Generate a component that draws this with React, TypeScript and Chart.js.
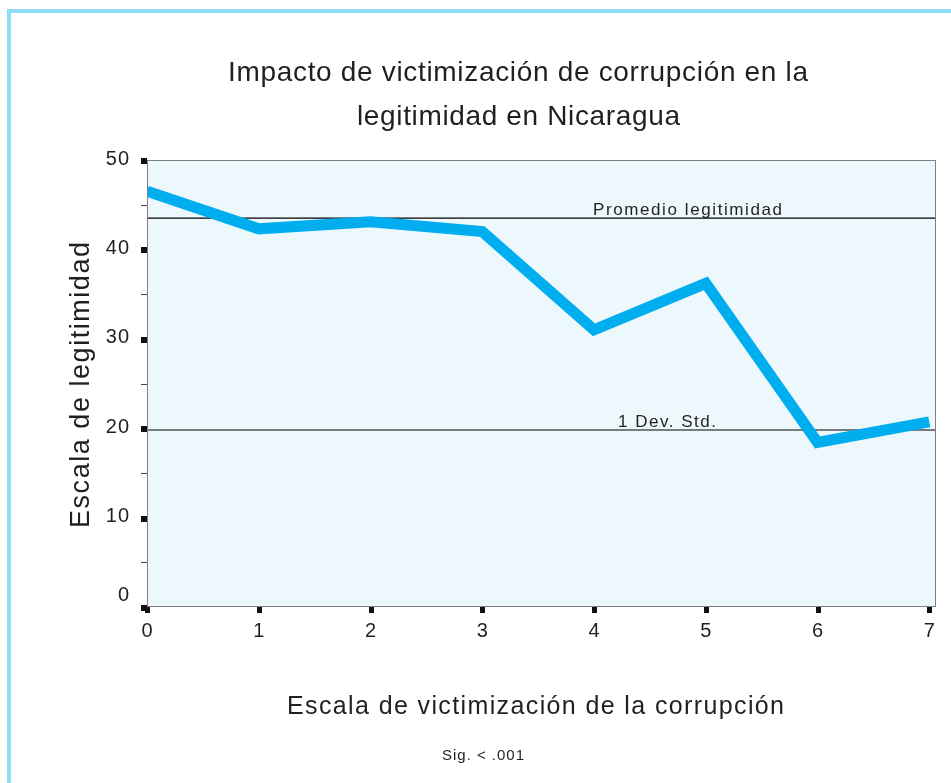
import React, { useEffect, useRef } from "react";
import { Chart, registerables } from "chart.js";

Chart.register(...registerables);

const titleLines = ["Impacto de victimización de corrupción en la", "legitimidad en Nicaragua"];
const xTitle = "Escala de victimización de la corrupción";
const yTitle = "Escala de legitimidad";
const note = "Sig. < .001";

const victimization = [0, 1, 2, 3, 4, 5, 6, 7];
const legitimacy = [46.5, 42.3, 43.1, 42.0, 31.0, 36.2, 18.4, 20.7];

const meanLabel = "Promedio legitimidad";
const meanValue = 43.5;
const sdLabel = "1 Dev. Std.";
const sdValue = 19.8;

const yMajorTicks = [0, 10, 20, 30, 40, 50];
const yMinorTicks = [5, 15, 25, 35, 45];
const xTicks = [0, 1, 2, 3, 4, 5, 6, 7];

const FONT = "'Liberation Sans', Arial, Helvetica, sans-serif";
const TEXT = "#231f20";

function spaced(ctx: CanvasRenderingContext2D, text: string, size: number, x0: number, x1: number, baseline: number) {
  ctx.font = `${size}px ${FONT}`;
  (ctx as any).letterSpacing = "0px";
  const w = ctx.measureText(text).width;
  const sp = (x1 - x0 - w) / (text.length - 1);
  (ctx as any).letterSpacing = `${sp}px`;
  ctx.textAlign = "left";
  ctx.textBaseline = "alphabetic";
  ctx.fillStyle = TEXT;
  ctx.fillText(text, x0, baseline);
  (ctx as any).letterSpacing = "0px";
}

const decor = {
  id: "decor",
  beforeDraw(chart: any) {
    const ctx = chart.ctx as CanvasRenderingContext2D;
    const { left, top, right, bottom } = chart.chartArea;
    ctx.save();
    ctx.fillStyle = "#ffffff";
    ctx.fillRect(0, 0, chart.width, chart.height);
    ctx.fillStyle = "#8fdcf7";
    ctx.fillRect(7, 9, chart.width - 7, 4);
    ctx.fillRect(7, 9, 4, chart.height - 9);
    ctx.fillStyle = "#edf8fd";
    ctx.fillRect(left, top, right - left, bottom - top);
    ctx.restore();
  },
  afterDatasetsDraw(chart: any) {
    const ctx = chart.ctx as CanvasRenderingContext2D;
    const { left, top, right, bottom } = chart.chartArea;
    const xs = chart.scales.x;
    const ys = chart.scales.y;
    ctx.save();
    ctx.strokeStyle = "#808080";
    ctx.lineWidth = 1;
    ctx.strokeRect(left + 0.5, top + 0.5, right - left - 1, bottom - top - 1);
    ctx.strokeStyle = "#444";
    for (const v of yMinorTicks) {
      const py = Math.round(ys.getPixelForValue(v)) + 0.5;
      ctx.beginPath();
      ctx.moveTo(left - 6, py);
      ctx.lineTo(left, py);
      ctx.stroke();
    }
    ctx.fillStyle = "#111";
    for (const v of yMajorTicks) {
      const py = ys.getPixelForValue(v);
      ctx.fillRect(left - 6, Math.round(py) - 2, 6, 6);
    }
    for (const v of xTicks) {
      const px = xs.getPixelForValue(v);
      ctx.fillRect(Math.round(px) - 2, bottom, 5, 6);
    }
    ctx.restore();
  },
  afterDraw(chart: any) {
    const ctx = chart.ctx as CanvasRenderingContext2D;
    const { left, bottom } = chart.chartArea;
    const xs = chart.scales.x;
    const ys = chart.scales.y;
    ctx.save();
    ctx.fillStyle = TEXT;
    ctx.font = `20px ${FONT}`;
    (ctx as any).letterSpacing = "1px";
    ctx.textAlign = "right";
    ctx.textBaseline = "middle";
    for (const v of yMajorTicks) {
      const py = ys.getPixelForValue(v) + (v === 0 ? -12 : -1);
      ctx.fillText(String(v), left - 17, py);
    }
    (ctx as any).letterSpacing = "0px";
    ctx.textAlign = "center";
    for (const v of xTicks) {
      ctx.fillText(String(v), xs.getPixelForValue(v), bottom + 24);
    }
    spaced(ctx, meanLabel, 17, 593, 782, Math.round(ys.getPixelForValue(meanValue)) - 3);
    spaced(ctx, sdLabel, 17, 618, 716, Math.round(ys.getPixelForValue(sdValue)) - 3);
    spaced(ctx, titleLines[0], 28, 228, 808, 81);
    spaced(ctx, titleLines[1], 28, 357, 680, 125);
    spaced(ctx, xTitle, 25, 287, 784, 714);
    spaced(ctx, note, 15, 442, 524, 760);
    ctx.translate(89, 528);
    ctx.rotate(-Math.PI / 2);
    spaced(ctx, yTitle, 27, 0, 286, 0);
    ctx.restore();
  },
};

export default function App() {
  const ref = useRef<HTMLCanvasElement | null>(null);
  useEffect(() => {
    if (!ref.current) return;
    const chart = new Chart(ref.current, {
      type: "line",
      data: {
        datasets: [
          {
            label: "legitimidad",
            data: victimization.map((x, i) => ({ x, y: legitimacy[i] })),
            borderColor: "#00adef",
            borderWidth: 11,
            borderJoinStyle: "miter",
            borderCapStyle: "butt",
            pointRadius: 0,
            tension: 0,
            clip: 0,
            order: 0,
          },
          {
            label: meanLabel,
            data: [
              { x: 0, y: meanValue },
              { x: 7.06, y: meanValue },
            ],
            borderColor: "#000",
            borderWidth: 1.2,
            pointRadius: 0,
            order: 1,
          },
          {
            label: sdLabel,
            data: [
              { x: 0, y: sdValue },
              { x: 7.06, y: sdValue },
            ],
            borderColor: "#000",
            borderWidth: 1.2,
            pointRadius: 0,
            order: 1,
          },
        ],
      },
      options: {
        animation: false,
        responsive: false,
        devicePixelRatio: 1,
        layout: { padding: { left: 0, top: 160, right: 15, bottom: 0 } },
        plugins: { legend: { display: false }, tooltip: { enabled: false }, title: { display: false } },
        scales: {
          x: {
            type: "linear",
            min: 0,
            max: 7.06,
            grid: { display: false },
            border: { display: false },
            ticks: { display: false },
            afterFit: (s: any) => {
              s.height = 176;
            },
          },
          y: {
            min: 0,
            max: 50,
            grid: { display: false },
            border: { display: false },
            ticks: { display: false },
            afterFit: (s: any) => {
              s.width = 147;
            },
          },
        },
      },
      plugins: [decor],
    } as any);
    return () => chart.destroy();
  }, []);
  return (
    <canvas
      ref={ref}
      width={951}
      height={783}
      style={{ position: "absolute", left: 0, top: 0, width: 951, height: 783 }}
    />
  );
}
